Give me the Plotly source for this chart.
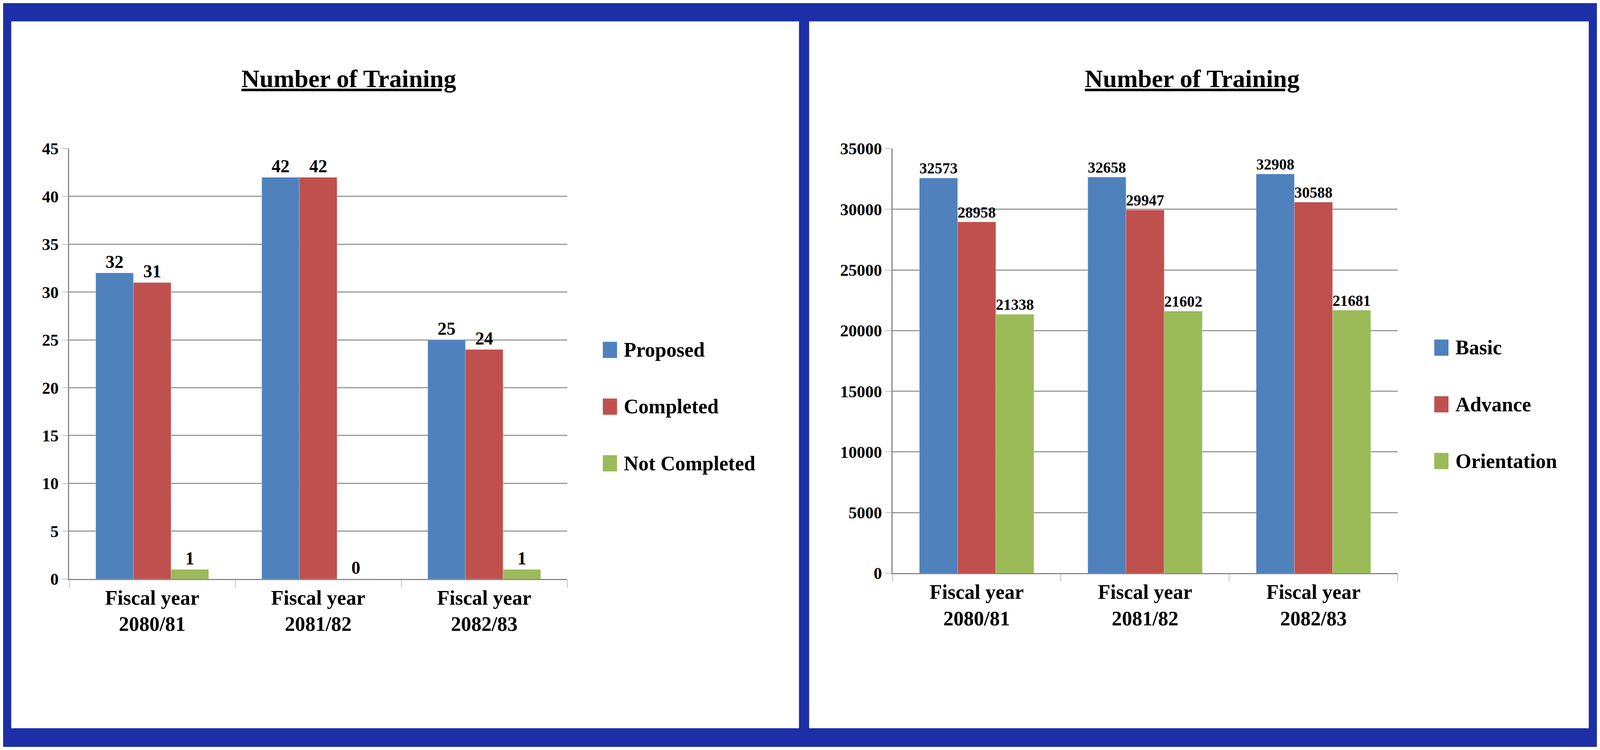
import plotly.graph_objects as go

categories = ["Fiscal year<br>2080/81", "Fiscal year<br>2081/82", "Fiscal year<br>2082/83"]

left_names = ["Proposed", "Completed", "Not Completed"]
proposed = [32, 42, 25]
completed = [31, 42, 24]
not_completed = [1, 0, 1]

right_names = ["Basic", "Advance", "Orientation"]
basic = [32573, 32658, 32908]
advance = [28958, 29947, 30588]
orientation = [21338, 21602, 21681]

colors = ["#4F81BD", "#C0504D", "#9BBB59"]
W, H = 1568, 627
S = 4800 / W
FONT = "Liberation Serif"

fig = go.Figure()

for i, (name, vals) in enumerate(zip(left_names, [proposed, completed, not_completed])):
    fig.add_trace(go.Bar(
        x=categories, y=vals, name=name, marker_color=colors[i],
        text=vals, textposition="outside", cliponaxis=False,
        textfont=dict(family=FONT, size=15 * S, color="black"),
        xaxis="x", yaxis="y", showlegend=False,
    ))

for i, (name, vals) in enumerate(zip(right_names, [basic, advance, orientation])):
    fig.add_trace(go.Bar(
        x=categories, y=vals, name=name, marker_color=colors[i],
        text=vals, textposition="outside", cliponaxis=False,
        textfont=dict(family=FONT, size=15 * S, color="black"),
        xaxis="x2", yaxis="y2", showlegend=False,
    ))

axis_font = dict(family=FONT, size=14 * S, color="black")
cat_font = dict(family=FONT, size=17 * S, color="black")
xcommon = dict(showline=True, linecolor="#888", linewidth=S, ticks="outside",
               tickson="boundaries", ticklen=6 * S, tickcolor="#888",
               tickfont=cat_font, showgrid=False,
               tickprefix="<b>", ticksuffix="</b>")
ycommon = dict(showline=True, linecolor="#888", linewidth=S, ticks="outside",
               ticklen=5 * S, tickcolor="#888", tickfont=axis_font,
               gridcolor="#999", gridwidth=S, zeroline=False, tickformat="d",
               tickprefix="<b>", ticksuffix="</b>")

shapes = [
    dict(type="rect", xref="paper", yref="paper", layer="below",
         x0=8 / W, x1=783 / W, y0=8 / H, y1=1 - 8 / H,
         fillcolor="white", line=dict(width=0)),
    dict(type="rect", xref="paper", yref="paper", layer="below",
         x0=793 / W, x1=1 - 8 / W, y0=8 / H, y1=1 - 8 / H,
         fillcolor="white", line=dict(width=0)),
]
annotations = [
    dict(text="<b><u>Number of Training</u></b>", x=340 / W, y=1 - 45 / H,
         xref="paper", yref="paper", showarrow=False, xanchor="center",
         font=dict(family=FONT, size=21 * S, color="black")),
    dict(text="<b><u>Number of Training</u></b>", x=1170 / W, y=1 - 45 / H,
         xref="paper", yref="paper", showarrow=False, xanchor="center",
         font=dict(family=FONT, size=21 * S, color="black")),
]

# hand-drawn legends (big square swatches like the original)
for names, lx, ly0 in [(left_names, 590, 292), (right_names, 1408, 290)]:
    for i, name in enumerate(names):
        cy = ly0 + i * 49
        shapes.append(dict(type="rect", xref="paper", yref="paper",
                           x0=lx / W, x1=(lx + 14) / W,
                           y0=1 - (cy + 7) / H, y1=1 - (cy - 7) / H,
                           fillcolor=colors[i], line=dict(width=0)))
        annotations.append(dict(text="<b>%s</b>" % name, x=(lx + 20) / W, y=1 - cy / H,
                                xref="paper", yref="paper", showarrow=False,
                                xanchor="left", yanchor="middle",
                                font=dict(family=FONT, size=17 * S, color="black")))

fig.update_layout(
    autosize=True,
    margin=dict(l=0, r=0, t=0, b=0),
    paper_bgcolor="#1c2fa6",
    plot_bgcolor="white",
    barmode="group", bargap=0.32, bargroupgap=0,
    xaxis=dict(domain=[65 / W, 555 / W], anchor="y", **xcommon),
    yaxis=dict(domain=[1 - 490 / H, 1 - 118 / H], range=[0, 45], dtick=5,
               anchor="x", **ycommon),
    xaxis2=dict(domain=[875 / W, 1372 / W], anchor="y2", **xcommon),
    yaxis2=dict(domain=[1 - 485 / H, 1 - 118 / H], range=[0, 35000], dtick=5000,
                anchor="x2", **ycommon),
    shapes=shapes,
    annotations=annotations,
)

fig.update_traces(texttemplate="<b>%{text}</b>")

fig.write_html("out.html")
